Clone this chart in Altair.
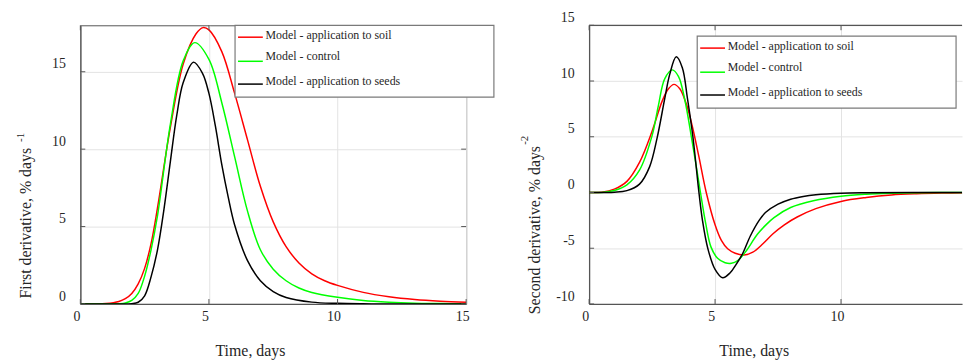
import altair as alt
import pandas as pd

# ---------------- data ----------------
# First derivative, % days^-1
d1_soil_t = [0, 0.5, 1.0, 1.5, 1.75, 2.0, 2.25, 2.5, 2.75, 3.0, 3.5, 4.0, 4.5, 4.77, 5.0, 5.5, 6.0, 6.5, 7.0, 7.5, 8.0, 8.5, 9.0, 9.5, 10.0, 11.0, 12.0, 13.0, 14.0, 15.0]
d1_soil_v = [0, 0.003, 0.025, 0.16, 0.34, 0.68, 1.3, 2.3, 3.9, 6.2, 11.4, 15.5, 17.45, 17.85, 17.7, 16.3, 13.6, 10.6, 7.6, 5.3, 3.7, 2.65, 1.95, 1.5, 1.2, 0.75, 0.47, 0.29, 0.18, 0.11]

d1_ctrl_t = [0, 1.0, 1.5, 1.75, 2.0, 2.25, 2.5, 2.75, 3.0, 3.5, 4.0, 4.45, 5.0, 5.5, 6.0, 6.5, 7.0, 7.5, 8.0, 8.5, 9.0, 10.0, 11.0, 12.0, 13.0, 14.0, 15.0]
d1_ctrl_v = [0, 0.001, 0.012, 0.06, 0.23, 0.68, 1.8, 3.5, 5.7, 11.6, 15.7, 16.88, 15.8, 13.0, 9.5, 6.0, 3.5, 2.25, 1.5, 1.03, 0.74, 0.43, 0.22, 0.11, 0.05, 0.03, 0.01]

d1_seed_t = [0, 1.5, 2.0, 2.25, 2.5, 2.75, 3.0, 3.25, 3.5, 3.75, 4.0, 4.4, 4.75, 5.0, 5.25, 5.5, 5.75, 6.0, 6.5, 7.0, 7.5, 8.0, 9.0, 10.0, 11.0, 12.0, 15.0]
d1_seed_v = [0, 0.001, 0.02, 0.11, 0.53, 1.75, 3.5, 6.1, 9.2, 12.2, 14.3, 15.62, 14.9, 13.6, 11.5, 9.0, 6.9, 5.1, 2.8, 1.5, 0.8, 0.42, 0.12, 0.04, 0.01, 0, 0]

# Second derivative, % days^-2
d2_soil_t = [0, 0.5, 1.0, 1.5, 2.0, 2.5, 2.9, 3.15, 3.37, 3.6, 3.85, 4.1, 4.35, 4.65, 5.0, 5.25, 5.5, 5.8, 6.15, 6.5, 6.9, 7.3, 7.75, 8.26, 9.0, 10.0, 11.0, 12.0, 13.0, 14.0, 15.0]
d2_soil_v = [0, 0.03, 0.3, 1.0, 2.7, 5.5, 8.2, 9.3, 9.7, 9.3, 8.0, 5.9, 3.3, 0, -2.9, -4.3, -5.05, -5.45, -5.6, -5.35, -4.6, -3.7, -2.9, -2.2, -1.45, -0.8, -0.45, -0.22, -0.11, -0.05, -0.02]

d2_ctrl_t = [0, 0.5, 1.0, 1.5, 2.0, 2.5, 2.75, 3.0, 3.3, 3.55, 3.8, 4.06, 4.25, 4.42, 4.63, 4.84, 5.1, 5.4, 5.65, 5.9, 6.2, 6.68, 7.0, 7.34, 8.0, 8.9, 10.0, 11.0, 12.0, 13.0, 15.0]
d2_ctrl_v = [0, 0.01, 0.18, 0.68, 2.0, 5.1, 7.8, 10.2, 11.0, 10.4, 8.3, 5.0, 2.4, 0, -2.8, -4.9, -5.9, -6.3, -6.35, -6.1, -5.35, -3.75, -2.95, -2.25, -1.35, -0.74, -0.33, -0.15, -0.06, -0.02, 0]

d2_seed_t = [0, 1.0, 1.5, 2.0, 2.4, 2.7, 3.0, 3.2, 3.46, 3.7, 3.9, 4.12, 4.36, 4.5, 4.71, 5.0, 5.3, 5.6, 5.85, 6.09, 6.4, 6.75, 7.0, 7.5, 8.0, 8.5, 9.0, 10.0, 11.0, 15.0]
d2_seed_v = [0, 0.03, 0.17, 0.75, 2.3, 4.9, 8.4, 10.6, 12.17, 11.2, 8.5, 5.0, 0, -2.5, -5.0, -6.9, -7.65, -7.2, -6.4, -5.5, -3.9, -2.5, -1.8, -1.05, -0.6, -0.35, -0.2, -0.06, -0.02, 0]

series_names = ["Model - application to soil", "Model - control", "Model - application to seeds"]
series_colors = ["#ff0000", "#00ff00", "#000000"]

x_ticks_left = [0, 5, 10, 15]
x_ticks_right = [0, 5, 10]
y1_ticks = [0, 5, 10, 15]
y2_ticks = [-10, -5, 0, 5, 10, 15]

x_title = "Time, days"
y1_title = "First derivative, % days"
y1_sup = "-1"
y2_title = "Second derivative, % days"
y2_sup = "-2"

# ---------------- styling ----------------
FONT = "Liberation Serif"
TEXT = "#262626"
AXIS = "#555555"
GRID = "#e3e3e3"
H = 281
PX_PER_DAY_RIGHT = 25.4
one = pd.DataFrame({"k": [0]})


def panel(series, xmax, xticks, ydom, yticks, ytitle, ysup, W, lx, ly, sup_xy, ytitle_y, xtitle_x, full_box):
    df = pd.concat(
        [pd.DataFrame({"t": t, "v": v, "series": n, "order": i}) for i, (n, t, v) in enumerate(series)],
        ignore_index=True,
    )
    x_enc = alt.X(
        "t:Q",
        scale=alt.Scale(domain=[0, xmax], nice=False, zero=False),
        axis=alt.Axis(
            values=xticks, title=x_title, grid=True, gridColor=GRID, gridWidth=1,
            ticks=False, domainColor=AXIS, domainWidth=1.3,
            labelFont=FONT, labelFontSize=14, labelColor=TEXT, labelOffset=-4, labelPadding=6,
            labelFlush=False, labelExpr="'' + datum.value",
            titleFont=FONT, titleFontSize=16, titleFontWeight="normal", titleColor=TEXT,
            titleX=xtitle_x, titleY=52, titleAlign="center", titleBaseline="alphabetic",
        ),
    )
    y_enc = alt.Y(
        "v:Q",
        scale=alt.Scale(domain=ydom, nice=False, zero=False),
        axis=alt.Axis(
            values=yticks, title=ytitle, grid=True, gridColor=GRID, gridWidth=1,
            ticks=False, domainColor=AXIS, domainWidth=1.3,
            labelFont=FONT, labelFontSize=14, labelColor=TEXT, labelOffset=-8, labelPadding=15,
            labelFlush=False, labelExpr="'' + datum.value",
            titleFont=FONT, titleFontSize=16, titleFontWeight="normal", titleColor=TEXT,
            titleAngle=270, titleX=-50, titleY=ytitle_y, titleAlign="center", titleBaseline="alphabetic",
        ),
    )
    lines = alt.Chart(df).mark_line(strokeWidth=1.5, interpolate="catmull-rom", clip=True).encode(
        x=x_enc, y=y_enc,
        color=alt.Color("series:N", scale=alt.Scale(domain=series_names, range=series_colors), legend=None),
        order="order:Q",
    )
    ydf = pd.DataFrame({"v": yticks})
    xdf = pd.DataFrame({"t": xticks})
    layers = [lines]
    layers.append(alt.Chart(ydf).mark_rule(color=AXIS, strokeWidth=1).encode(y=y_enc, x=alt.value(0), x2=alt.value(5)))
    layers.append(alt.Chart(xdf).mark_rule(color=AXIS, strokeWidth=1).encode(x=x_enc, y=alt.value(H - 5), y2=alt.value(H)))
    layers.append(alt.Chart(xdf).mark_rule(color=AXIS, strokeWidth=1).encode(x=x_enc, y=alt.value(0), y2=alt.value(5)))
    if full_box:
        layers.append(alt.Chart(ydf).mark_rule(color=AXIS, strokeWidth=1).encode(y=y_enc, x=alt.value(W - 5), x2=alt.value(W)))
    else:
        layers.append(alt.Chart(one).mark_rule(color=AXIS, strokeWidth=1.2).encode(x=alt.value(0), x2=alt.value(W), y=alt.value(0)))

    layers.append(alt.Chart(one).mark_rect(fill="white", stroke="#7a7a7a", strokeWidth=1.2).encode(
        x=alt.value(lx), x2=alt.value(lx + 261), y=alt.value(ly), y2=alt.value(ly + 72.5)
    ))
    line_off = [12, 36.3, 59.3]
    text_off = [14.3, 34.7, 60.3]
    for i, (n, c) in enumerate(zip(series_names, series_colors)):
        layers.append(
            alt.Chart(one).mark_rule(color=c, strokeWidth=1.5).encode(
                x=alt.value(lx + 3), x2=alt.value(lx + 28), y=alt.value(ly + line_off[i])
            )
        )
        layers.append(
            alt.Chart(one).mark_text(text=n, align="left", baseline="alphabetic", font=FONT,
                                     fontSize=12, color=TEXT).encode(
                x=alt.value(lx + 30.7), y=alt.value(ly + text_off[i])
            )
        )
    layers.append(
        alt.Chart(one).mark_text(text=ysup, angle=270, align="center", baseline="middle", font=FONT,
                                 fontSize=11, color=TEXT).encode(
            x=alt.value(sup_xy[0]), y=alt.value(sup_xy[1])
        )
    )
    view = alt.ViewBackground(stroke=AXIS, strokeWidth=1) if full_box else alt.ViewBackground(stroke="transparent")
    return alt.layer(*layers).properties(width=W, height=H, view=view)


left = panel(
    [(series_names[0], d1_soil_t, d1_soil_v), (series_names[1], d1_ctrl_t, d1_ctrl_v), (series_names[2], d1_seed_t, d1_seed_v)],
    15, x_ticks_left, [0, 18], y1_ticks, y1_title, y1_sup, 389, 156, 0, (-60.3, 113), 199, 171, True,
)
W_RIGHT = 376
right = panel(
    [(series_names[0], d2_soil_t, d2_soil_v), (series_names[1], d2_ctrl_t, d2_ctrl_v), (series_names[2], d2_seed_t, d2_seed_v)],
    W_RIGHT / PX_PER_DAY_RIGHT, x_ticks_right, [-10, 15], y2_ticks, y2_title, y2_sup, W_RIGHT, 109, 11, (-65, 116), 206, 166, False,
)

chart = (
    alt.hconcat(left, right, spacing=22)
    .properties(padding={"left": 14, "top": 8, "right": 0, "bottom": 0}, background="white")
)

chart.save("out.html", embed_options={"renderer": "svg", "actions": False})
